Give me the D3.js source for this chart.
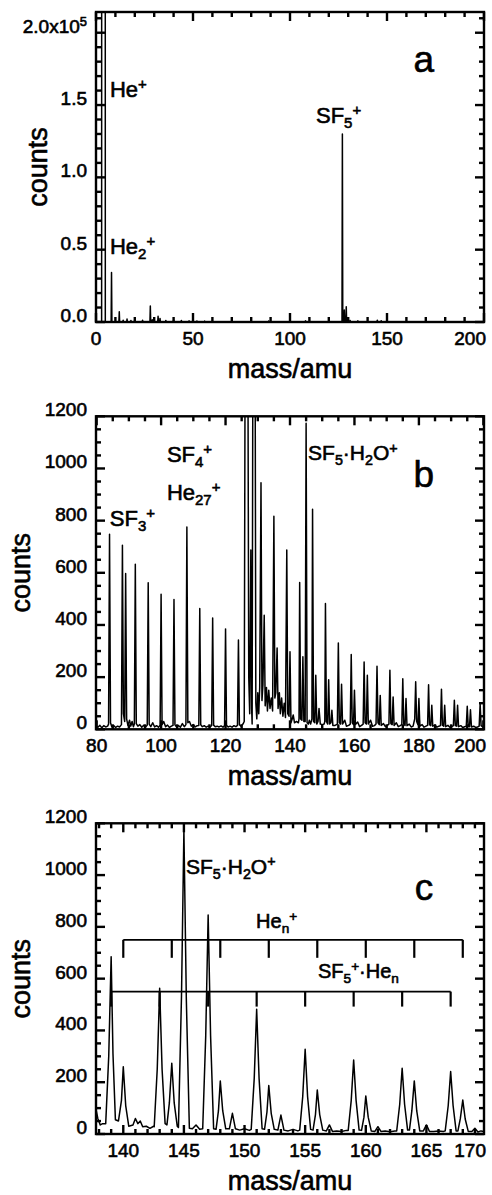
<!DOCTYPE html>
<html>
<head>
<meta charset="utf-8">
<script src="https://cdn.jsdelivr.net/npm/d3@7"></script>
<style>
body { margin: 0; background: #fff; }
svg { display: block; font-family: "Liberation Sans", Arial, Helvetica, sans-serif; }
svg text { fill: #000; stroke: #000; stroke-width: 0.6px; }
</style>
</head>
<body>
<svg id="chart" width="492" height="1195"></svg>
<script>
'use strict';

// ---- panel a : overview spectrum, [mass, counts] ----
var spectrumA = [
    [0, 0], [2.9, 0], [3.0, 1000000], [3.9, 2500000], [4.7, 1000000], [4.8, 0],
    [7.8, 0], [8.0, 34300], [8.2, 0],
    [11.8, 0], [12.0, 7100], [12.2, 0],
    [13.8, 0], [14.0, 1200], [14.2, 0],
    [15.8, 0], [16.0, 2000], [16.2, 0],
    [17.8, 0], [18.0, 1000], [18.2, 0],
    [19.8, 0], [20.0, 1400], [20.2, 0],
    [23.8, 0], [24.0, 1200], [24.2, 0],
    [27.8, 0], [28.0, 11000], [28.2, 0],
    [28.8, 0], [29.0, 1500], [29.2, 0],
    [31.8, 0], [32.0, 4000], [32.2, 0],
    [32.8, 0], [33.0, 2500], [33.2, 0],
    [35.8, 0], [36.0, 1100], [36.2, 0],
    [39.8, 0], [40.0, 1300], [40.2, 0],
    [43.8, 0], [44.0, 1000], [44.2, 0],
    [47.8, 0], [48.0, 800], [48.2, 0],
    [51.8, 0], [52.0, 700], [52.2, 0],
    [55.8, 0], [56.0, 600], [56.2, 0],
    [59.8, 0], [60.0, 600], [60.2, 0],
    [88.8, 0], [89.0, 700], [89.2, 0],
    [107.8, 0], [108.0, 800], [108.2, 0],
    [126.8, 0], [127.0, 130000], [127.2, 0],
    [127.8, 0], [128.0, 8300], [128.2, 0],
    [128.8, 0], [129.0, 10500], [129.2, 0],
    [129.8, 0], [130.0, 3000], [130.2, 0],
    [130.8, 0], [131.0, 1000], [131.2, 0],
    [134.8, 0], [135.0, 800], [135.2, 0],
    [144.8, 0], [145.0, 1200], [145.2, 0],
    [146.8, 0], [147.0, 900], [147.2, 0],
    [200, 0]
];
var xTicksA = [0, 50, 100, 150, 200];
var xTickLabelsA = ["0", "50", "100", "150", "200"];
var yTicksA = [0, 50000, 100000, 150000, 200000];
var yTickLabelsA = ["0.0", "0.5", "1.0", "1.5", "2.0x10^{5}"];
var peakLabelsA = ["He^{+}", "He_{2}^{+}", "SF_{5}^{+}"];

// ---- panel b : 80-200 amu ----
var spectrumB = [
    [79.8, 12], [80.4, 8], [81.0, 15], [81.6, 6], [82.2, 14], [82.8, 9], [83.4, 12],
    [83.7, 20], [84.0, 748], [84.3, 25], [84.7, 10], [85.3, 14], [85.9, 7], [86.5, 12], [87.1, 9],
    [87.7, 18], [88.0, 706], [88.3, 60], [88.7, 30], [89.0, 597], [89.3, 40], [89.7, 15],
    [90.2, 35], [90.6, 12], [91.0, 30], [91.4, 10],
    [91.7, 20], [92.0, 633], [92.3, 22], [92.8, 12], [93.4, 18], [94.0, 8], [94.6, 15], [95.2, 9],
    [95.7, 16], [96.0, 562], [96.3, 20], [96.8, 10], [97.4, 25], [98.0, 9], [98.6, 14], [99.2, 8],
    [99.7, 16], [100.0, 518], [100.3, 18], [100.8, 30], [101.4, 10], [102.0, 16], [102.6, 7], [103.2, 12],
    [103.7, 15], [104.0, 498], [104.3, 17], [104.8, 9], [105.4, 14], [106.0, 8], [106.6, 22], [107.2, 10],
    [107.7, 18], [108.0, 776], [108.3, 25], [108.8, 30], [109.4, 12], [110.0, 18], [110.6, 9], [111.2, 14],
    [111.7, 15], [112.0, 463], [112.3, 17], [112.8, 10], [113.4, 14], [114.0, 8], [114.6, 12], [115.2, 9],
    [115.7, 15], [116.0, 427], [116.3, 16], [116.8, 10], [117.4, 12], [118.0, 9], [118.6, 13], [119.2, 8],
    [119.7, 14], [120.0, 385], [120.3, 15], [120.8, 9], [121.4, 12], [122.0, 8], [122.6, 14], [123.2, 10],
    [123.7, 15], [124.0, 342], [124.3, 18], [124.8, 12], [125.4, 20], [125.8, 30],
    [126.1, 1600], [126.5, 130000], [126.9, 1600], [127.2, 200], [127.5, 60],
    [127.85, 687], [128.1, 80], [128.25, 20],
    [128.5, 1600], [128.8, 5200], [129.15, 1600], [129.4, 100], [129.7, 40],
    [130.0, 140], [130.3, 60], [130.6, 160], [131.0, 945], [131.3, 110], [131.6, 170],
    [132.0, 437], [132.3, 90], [132.7, 160], [133.0, 70], [133.4, 150], [133.8, 80],
    [134.2, 120], [134.6, 70], [135.0, 817], [135.3, 120], [135.6, 140], [136.0, 312],
    [136.3, 80], [136.7, 140], [137.0, 60], [137.4, 120], [137.8, 50], [138.2, 100],
    [138.6, 45], [139.0, 687], [139.3, 60], [139.7, 50], [140.0, 297], [140.3, 25],
    [140.7, 40], [141.0, 55], [141.4, 25], [142.0, 30], [142.6, 25],
    [142.8, 40], [143.0, 563], [143.3, 40], [143.7, 35], [144.0, 278], [144.3, 30],
    [144.7, 30], [145.0, 1173], [145.3, 25], [145.7, 20], [146.0, 35], [146.4, 20],
    [146.8, 40], [147.0, 844], [147.3, 30], [147.7, 25], [148.0, 207], [148.3, 20],
    [148.7, 30], [149.0, 80], [149.4, 20], [150.0, 18], [150.6, 20],
    [150.8, 30], [151.0, 482], [151.3, 30], [151.7, 20], [152.0, 190], [152.3, 20],
    [152.7, 25], [153.0, 73], [153.3, 15], [154.0, 15], [154.7, 20],
    [155.0, 331], [155.3, 25], [155.7, 20], [156.0, 173], [156.3, 20],
    [157.0, 35], [157.5, 12], [158.2, 15], [158.7, 20],
    [159.0, 287], [159.3, 25], [159.7, 18], [160.0, 150], [160.3, 18],
    [161.0, 28], [161.6, 10], [162.2, 15], [162.7, 20],
    [163.0, 258], [163.3, 25], [163.7, 20], [164.0, 207], [164.3, 20],
    [165.0, 35], [165.6, 12], [166.2, 14], [166.7, 20],
    [167.0, 242], [167.3, 25], [167.7, 18], [168.0, 130], [168.3, 15],
    [169.0, 22], [169.6, 10], [170.2, 15], [170.7, 20],
    [171.0, 226], [171.3, 22], [171.7, 18], [172.0, 124], [172.3, 15],
    [173.0, 25], [173.6, 10], [174.2, 14], [174.7, 18],
    [175.0, 194], [175.3, 20], [175.7, 15], [176.0, 118], [176.3, 14],
    [177.0, 20], [177.6, 9], [178.2, 12], [178.7, 40],
    [179.0, 182], [179.3, 30], [179.7, 18], [180.0, 118], [180.3, 12],
    [181.0, 18], [181.6, 8], [182.2, 12], [182.7, 15],
    [183.0, 171], [183.3, 18], [183.7, 14], [184.0, 92], [184.3, 12],
    [185.0, 16], [185.6, 8], [186.2, 12], [186.7, 14],
    [187.0, 154], [187.3, 16], [187.7, 12], [188.0, 92], [188.3, 10],
    [189.0, 15], [189.6, 8], [190.2, 10], [190.7, 14],
    [191.0, 111], [191.3, 14], [191.7, 12], [192.0, 92], [192.3, 10],
    [193.0, 14], [193.6, 7], [194.2, 10], [194.7, 12],
    [195.0, 88], [195.3, 12], [195.7, 10], [196.0, 75], [196.3, 9],
    [197.0, 12], [197.6, 7], [198.2, 9], [198.7, 12],
    [199.0, 98], [199.3, 14], [199.7, 10], [200.2, 12]
];
var xTicksB = [80, 100, 120, 140, 160, 180, 200];
var xTickLabelsB = ["80", "100", "120", "140", "160", "180", "200"];
var yTicksB = [0, 200, 400, 600, 800, 1000, 1200];
var yTickLabelsB = ["0", "200", "400", "600", "800", "1000", "1200"];
var peakLabelsB = ["SF_{4}^{+}", "He_{27}^{+}", "SF_{3}^{+}", "SF_{5}·H_{2}O^{+}"];

// ---- panel c : 138-170 amu ----
var spectrumC = [
    [137.75, 95], [137.9, 60], [138.1, 35], [138.3, 40],
    [138.55, 40], [138.8, 300], [139.0, 685], [139.15, 310], [139.35, 55],
    [139.6, 50], [139.85, 130], [140.0, 260], [140.2, 110], [140.45, 30],
    [140.8, 35], [141.0, 60], [141.2, 40], [141.4, 50], [141.6, 28],
    [141.9, 30], [142.2, 22], [142.5, 30],
    [142.55, 28], [142.8, 250], [143.0, 563], [143.2, 250], [143.45, 40],
    [143.6, 35], [143.8, 120], [144.0, 273], [144.2, 120], [144.45, 30],
    [144.55, 25], [144.8, 530], [145.0, 1174], [145.2, 520], [145.45, 22],
    [145.7, 20], [146.0, 35], [146.3, 18],
    [146.55, 20], [146.8, 380], [147.0, 846], [147.2, 380], [147.45, 20],
    [147.65, 18], [147.85, 90], [148.0, 205], [148.2, 90], [148.45, 20],
    [148.75, 20], [149.0, 80], [149.25, 20],
    [149.6, 15], [150.0, 20], [150.4, 14],
    [150.55, 18], [150.8, 215], [151.0, 482], [151.2, 215], [151.45, 20],
    [151.65, 18], [151.85, 85], [152.0, 187], [152.2, 80], [152.45, 18],
    [152.75, 15], [153.0, 73], [153.25, 15],
    [153.6, 12], [154.0, 18], [154.4, 12],
    [154.55, 15], [154.8, 145], [155.0, 327], [155.2, 145], [155.45, 18],
    [155.65, 15], [155.85, 75], [156.0, 170], [156.2, 75], [156.45, 15],
    [156.75, 12], [157.0, 35], [157.25, 10],
    [157.6, 12], [158.0, 10], [158.4, 14],
    [158.55, 14], [158.8, 130], [159.0, 286], [159.2, 130], [159.45, 15],
    [159.65, 14], [159.85, 65], [160.0, 147], [160.2, 65], [160.45, 12],
    [160.75, 10], [161.0, 28], [161.25, 10],
    [161.6, 12], [162.0, 9], [162.4, 12],
    [162.55, 12], [162.8, 115], [163.0, 254], [163.2, 115], [163.45, 15],
    [163.6, 15], [163.8, 90], [164.0, 205], [164.2, 90], [164.45, 12],
    [164.75, 12], [165.0, 35], [165.25, 10],
    [165.6, 10], [166.0, 12], [166.4, 10],
    [166.55, 12], [166.8, 110], [167.0, 241], [167.2, 110], [167.45, 12],
    [167.6, 12], [167.8, 60], [168.0, 131], [168.2, 58], [168.45, 10],
    [168.75, 10], [169.0, 22], [169.25, 8],
    [169.5, 12], [169.75, 10]
];
var xTicksC = [140, 145, 150, 155, 160, 165, 170];
var xTickLabelsC = ["140", "145", "150", "155", "160", "165", "170"];
var yTicksC = [0, 200, 400, 600, 800, 1000, 1200];
var yTickLabelsC = ["0", "200", "400", "600", "800", "1000", "1200"];
var peakLabelsC = ["SF_{5}·H_{2}O^{+}", "He_{n}^{+}", "SF_{5}^{+}·He_{n}"];
var heClusterMasses = [140, 144, 148, 152, 156, 160, 164, 168];
var sf5HeClusterMasses = [139, 143, 147, 151, 155, 159, 163, 167];

var svg = d3.select("#chart");
var LEFT = 96, RIGHT = 484;

// text with _{sub} and ^{sup} pieces
function rich(text, str, size) {
    var parts = str.match(/_\{[^}]*\}|\^\{[^}]*\}|[^_^]+/g), cur = 0;
    text.text(null).style("font-size", size + "px");
    parts.forEach(function(p) {
        var shift = 0, fs = size, t = p;
        if (p[0] === "_") { shift = 0.24 * size; fs = 0.68 * size; t = p.slice(2, -1); }
        else if (p[0] === "^") { shift = -0.36 * size; fs = 0.68 * size; t = p.slice(2, -1); }
        text.append("tspan").attr("dy", shift - cur).style("font-size", fs + "px").text(t);
        cur = shift;
    });
}

// inward tick marks, drawn as plain svg lines
function tickMarks(g, list) {
    g.selectAll(null).data(list).enter().append("line")
        .attr("x1", function(d) { return d[0]; }).attr("y1", function(d) { return d[1]; })
        .attr("x2", function(d) { return d[2]; }).attr("y2", function(d) { return d[3]; })
        .attr("stroke", "#000").attr("stroke-width", 2.4);
}

function panel(cfg) {
    var x = d3.scaleLinear().domain(cfg.xDomain).range([LEFT, RIGHT]),
        y = d3.scaleLinear().domain(cfg.yDomain).range([cfg.bottom, cfg.top]),
        g = svg.append("g");

    g.append("clipPath").attr("id", "clip-" + cfg.id)
        .append("rect").attr("x", LEFT).attr("y", cfg.top)
        .attr("width", RIGHT - LEFT).attr("height", cfg.bottom - cfg.top);

    var line = d3.line().x(function(d) { return x(d[0]); }).y(function(d) { return y(d[1]); });
    g.append("path").datum(cfg.data)
        .attr("clip-path", "url(#clip-" + cfg.id + ")")
        .attr("d", line)
        .attr("fill", "none").attr("stroke", "#000")
        .attr("stroke-width", 1.5).attr("stroke-linejoin", "round");

    // ticks inside on all four sides
    var xMinor = d3.range(Math.ceil(cfg.xDomain[0] / cfg.xStep) * cfg.xStep, cfg.xDomain[1] + 1e-9, cfg.xStep),
        yMinor = d3.range(0, cfg.yDomain[1] + 1e-9, cfg.yStep),
        segs = [];
    xMinor.forEach(function(v) {
        var len = cfg.xTicks.indexOf(v) >= 0 ? 9 : 5, px = x(v);
        segs.push([px, cfg.bottom, px, cfg.bottom - len], [px, cfg.top, px, cfg.top + len]);
    });
    yMinor.forEach(function(v) {
        var len = cfg.yTicks.indexOf(v) >= 0 ? 9 : 5, py = y(v);
        segs.push([LEFT, py, LEFT + len, py], [RIGHT, py, RIGHT - len, py]);
    });
    tickMarks(g, segs);

    g.selectAll(null).data(cfg.xTicks).enter().append("text")
        .attr("x", function(d) { return x(d) > RIGHT - 14 ? RIGHT + 2 : x(d); })
        .attr("y", cfg.bottom + 23)
        .attr("text-anchor", function(d) { return x(d) > RIGHT - 14 ? "end" : "middle"; })
        .style("font-size", "19px")
        .text(function(d, i) { return cfg.xLabels[i]; });
    g.selectAll(null).data(cfg.yTicks).enter().append("text")
        .attr("x", LEFT - 9).attr("y", function(d) { return y(d); })
        .attr("dy", "0.35em").attr("text-anchor", "end")
        .each(function(d, i) { rich(d3.select(this), cfg.yLabels[i], 19); });

    // frame
    g.append("rect").attr("x", LEFT).attr("y", cfg.top)
        .attr("width", RIGHT - LEFT).attr("height", cfg.bottom - cfg.top)
        .attr("fill", "none").attr("stroke", "#000").attr("stroke-width", 2.4);

    // axis titles
    g.append("text").attr("x", (LEFT + RIGHT) / 2).attr("y", cfg.bottom + 56)
        .attr("text-anchor", "middle").style("font-size", "27px").text("mass/amu");
    g.append("text")
        .attr("transform", "translate(" + cfg.countsX + "," + (cfg.top + cfg.bottom) / 2 + ") rotate(-90)")
        .attr("text-anchor", "middle").style("font-size", "27px").text("counts");

    // panel letter
    g.append("text").attr("x", x(cfg.letterAt[0])).attr("y", y(cfg.letterAt[1]))
        .attr("text-anchor", "middle").style("font-size", "37px").text(cfg.letter);

    // peak labels
    cfg.labels.forEach(function(l) {
        var t = g.append("text").attr("x", x(l.at[0])).attr("y", y(l.at[1]));
        rich(t, l.text, l.size || 22);
    });

    return {x: x, y: y, g: g};
}

panel({
    id: "a", top: 12, bottom: 322, countsX: 46.7,
    xDomain: [0, 200], yDomain: [0, 214330], xStep: 10, yStep: 10000,
    xTicks: xTicksA, xLabels: xTickLabelsA, yTicks: yTicksA, yLabels: yTickLabelsA,
    data: spectrumA, letter: "a", letterAt: [169, 172850],
    labels: [
        {text: peakLabelsA[0], at: [7.2, 155560]},
        {text: peakLabelsA[1], at: [7.2, 47000]},
        {text: peakLabelsA[2], at: [113.4, 137600]}
    ]
});

panel({
    id: "b", top: 416.3, bottom: 729.3, countsX: 30,
    xDomain: [79.8, 200.2], yDomain: [0, 1200], xStep: 5, yStep: 50,
    xTicks: xTicksB, xLabels: xTickLabelsB, yTicks: yTicksB, yLabels: yTickLabelsB,
    data: spectrumB, letter: "b", letterAt: [181.5, 930],
    labels: [
        {text: peakLabelsB[0], at: [101.8, 1026]},
        {text: peakLabelsB[1], at: [101.8, 879]},
        {text: peakLabelsB[2], at: [84.1, 779]},
        {text: peakLabelsB[3], at: [145.6, 1032], size: 21}
    ]
});

var pc = panel({
    id: "c", top: 823.3, bottom: 1134, countsX: 30,
    xDomain: [137.75, 169.75], yDomain: [0, 1200], xStep: 1, yStep: 50,
    xTicks: xTicksC, xLabels: xTickLabelsC, yTicks: yTicksC, yLabels: yTickLabelsC,
    data: spectrumC, letter: "c", letterAt: [164.8, 904],
    labels: [
        {text: peakLabelsC[0], at: [145.17, 1004], size: 21},
        {text: peakLabelsC[1], at: [150.95, 796], size: 20},
        {text: peakLabelsC[2], at: [156.06, 603], size: 20}
    ]
});

// cluster series brackets in panel c
function bracket(masses, level, len) {
    var yy = pc.y(level);
    pc.g.append("line")
        .attr("x1", pc.x(masses[0])).attr("x2", pc.x(masses[masses.length - 1]))
        .attr("y1", yy).attr("y2", yy)
        .attr("stroke", "#000").attr("stroke-width", 1.8);
    pc.g.selectAll(null).data(masses).enter().append("line")
        .attr("x1", function(d) { return pc.x(d); }).attr("x2", function(d) { return pc.x(d); })
        .attr("y1", yy).attr("y2", yy + len)
        .attr("stroke", "#000").attr("stroke-width", 2.2);
}
bracket(heClusterMasses, 750, 18);
bracket(sf5HeClusterMasses, 550, 15);
</script>
</body>
</html>
